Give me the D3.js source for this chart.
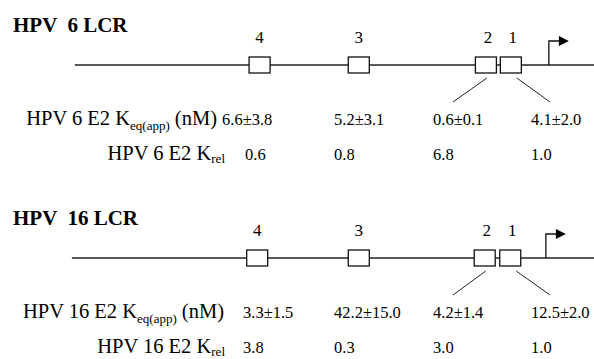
<!DOCTYPE html>
<html>
<head>
<meta charset="utf-8">
<script src="https://cdn.jsdelivr.net/npm/d3@7"></script>
<style>
  body { margin: 0; background: #fff; }
  text { font-family: 'Liberation Serif'; }
</style>
</head>
<body>
<svg id="chart"></svg>
<script>
// E2 binding sites, listed left to right along the LCR
const sites = ['4', '3', '2', '1'];

// relative positions along the LCR (arbitrary units, 0-1000)
const hpv6SitePos = [437, 604, 818, 860];
const hpv6Tss = 924;
const hpv16SitePos = [433, 604, 816, 859];
const hpv16Tss = 919;

// measured affinities
const hpv6Keq = ['6.6±3.8', '5.2±3.1', '0.6±0.1', '4.1±2.0'];
const hpv6Krel = ['0.6', '0.8', '6.8', '1.0'];
const hpv16Keq = ['3.3±1.5', '42.2±15.0', '4.2±1.4', '12.5±2.0'];
const hpv16Krel = ['3.8', '0.3', '3.0', '1.0'];

const width = 594, height = 359;
const svg = d3.select('#chart').attr('width', width).attr('height', height);
const root = svg.append('g');

// shared scales
const x = d3.scaleLinear().domain([0, 1000]).range([0, width]);
const col = d3.scaleOrdinal().domain(sites).range([243, 334, 433, 531]);

const panels = [
  { name: '6', top: 0, start: 126, pos: hpv6SitePos, tss: hpv6Tss, keq: hpv6Keq, krel: hpv6Krel, labelEnd: 217, firstShift: -21, relShift: 2 },
  { name: '16', top: 193, start: 121, pos: hpv16SitePos, tss: hpv16Tss, keq: hpv16Keq, krel: hpv16Krel, labelEnd: 224, firstShift: 0, relShift: 0 }
];

panels.forEach(p => {
  const g = root.append('g').attr('transform', `translate(0,${p.top})`);
  const lineY = 65;

  // title
  g.append('text')
    .attr('x', 13).attr('y', 32)
    .attr('font-size', 21).attr('font-weight', 'bold')
    .style('white-space', 'pre')
    .text(`HPV  ${p.name} LCR`);

  // LCR backbone
  g.append('line')
    .attr('x1', x(p.start)).attr('x2', width)
    .attr('y1', lineY).attr('y2', lineY)
    .attr('stroke', '#222').attr('stroke-width', 1.5);

  // transcription start arrow
  const tx = x(p.tss);
  g.append('path')
    .attr('d', `M${tx},${lineY}V${lineY - 24}H${tx + 11}`)
    .attr('fill', 'none').attr('stroke', '#111').attr('stroke-width', 1.3);
  g.append('path')
    .attr('d', `M${tx + 10},${lineY - 29}L${tx + 20},${lineY - 24}L${tx + 10},${lineY - 19}Z`)
    .attr('fill', '#000');

  // binding site boxes
  const bw = 21, bh = 16;
  g.selectAll('.site')
    .data(sites)
    .enter()
    .append('rect')
    .attr('x', (d, i) => x(p.pos[i]) - bw / 2)
    .attr('y', lineY - bh / 2)
    .attr('width', bw).attr('height', bh)
    .attr('fill', '#fff').attr('stroke', '#111').attr('stroke-width', 1.3);

  g.selectAll('.site-label')
    .data(sites)
    .enter()
    .append('text')
    .attr('x', (d, i) => x(p.pos[i]) + (i > 1 ? 2 : 0))
    .attr('y', lineY - 22)
    .attr('text-anchor', 'middle')
    .attr('font-size', 17)
    .text(d => d);

  // leader lines from sites 2 and 1 to their value columns
  [2, 3].forEach(i => {
    const bx = x(p.pos[i]) + (i === 2 ? 1 : 6);
    const cx = col(sites[i]) + (i === 2 ? 20 : 19);
    g.append('line')
      .attr('x1', bx).attr('y1', lineY + 13)
      .attr('x2', cx).attr('y2', lineY + 37)
      .attr('stroke', '#222').attr('stroke-width', 1);
  });

  // K eq row
  const r1 = g.append('text').attr('x', p.labelEnd).attr('y', 125)
    .attr('text-anchor', 'end').attr('font-size', 20.5);
  r1.append('tspan').text(`HPV ${p.name} E2 K`);
  r1.append('tspan').attr('dy', 5).attr('font-size', 13).text('eq(app)');
  r1.append('tspan').attr('dy', -5).text(' (nM)');

  g.selectAll('.keq')
    .data(p.keq)
    .enter()
    .append('text')
    .attr('x', (d, i) => col(sites[i]) + (i === 0 ? p.firstShift : 0))
    .attr('y', 125)
    .attr('font-size', 16.5)
    .text(d => d);

  // K rel row
  const r2 = g.append('text').attr('x', 225).attr('y', 160)
    .attr('text-anchor', 'end').attr('font-size', 20.5);
  r2.append('tspan').text(`HPV ${p.name} E2 K`);
  r2.append('tspan').attr('dy', 3).attr('font-size', 13).text('rel');

  g.selectAll('.krel')
    .data(p.krel)
    .enter()
    .append('text')
    .attr('x', (d, i) => col(sites[i]) + (i === 0 ? p.relShift : 0))
    .attr('y', 160)
    .attr('font-size', 16.5)
    .text(d => d);
});
</script>
</body>
</html>
